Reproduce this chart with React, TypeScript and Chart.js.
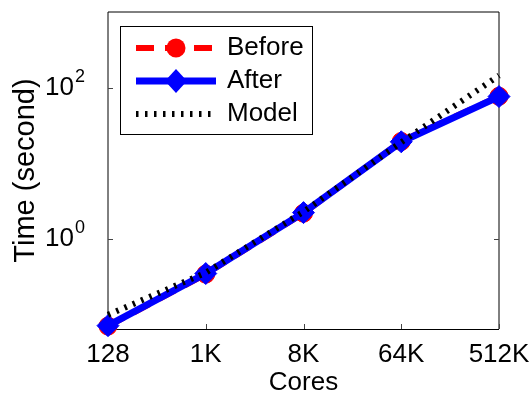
import React, { useEffect, useRef } from 'react';
import { Chart, registerables } from 'chart.js';

Chart.register(...registerables);

const categories = ['128', '1K', '8K', '64K', '512K'];
const beforeValues = [0.071, 0.345, 2.2, 19.5, 77];
const afterValues = [0.072, 0.351, 2.24, 19.3, 76.4];
const modelValues = [0.1, 0.36, 2.3, 19, 145];
const seriesNames = ['Before', 'After', 'Model'];
const yTickValues = [1, 100];
const yTickBases = ['10', '10'];
const yTickExponents = ['0', '2'];
const xTitle = 'Cores';
const yTitle = 'Time (second)';

const FONT = "'Liberation Sans', Arial, sans-serif";

const framePlugin = {
  id: 'matlabFrame',
  beforeDatasetsDraw(chart: any) {
    const { ctx, chartArea: a, scales } = chart;
    ctx.save();
    ctx.strokeStyle = '#000';
    ctx.lineWidth = 1;
    ctx.setLineDash([]);
    ctx.beginPath();
    ctx.moveTo(a.left, a.bottom);
    ctx.lineTo(a.left, a.top);
    ctx.lineTo(a.right, a.top);
    ctx.lineTo(a.right, a.bottom);
    ctx.stroke();
    ctx.beginPath();
    ctx.moveTo(a.left, a.bottom + 0.5);
    ctx.lineTo(a.right, a.bottom + 0.5);
    ctx.stroke();
    // ticks
    ctx.strokeStyle = '#444';
    const ys = scales.y;
    yTickValues.forEach((v) => {
      const py = Math.round(ys.getPixelForValue(v)) + 0.5;
      ctx.beginPath();
      ctx.moveTo(a.left, py);
      ctx.lineTo(a.left + 5, py);
      ctx.moveTo(a.right, py);
      ctx.lineTo(a.right - 5, py);
      ctx.stroke();
    });
    const xs = scales.x;
    categories.forEach((_, i) => {
      const px = Math.round(xs.getPixelForValue(i)) + 0.5;
      ctx.beginPath();
      ctx.moveTo(px, a.bottom);
      ctx.lineTo(px, a.bottom - 5);
      ctx.stroke();
    });
    // y tick labels with superscript exponents
    ctx.fillStyle = '#000';
    ctx.textBaseline = 'middle';
    yTickValues.forEach((v, i) => {
      const py = ys.getPixelForValue(v);
      ctx.font = `26px ${FONT}`;
      ctx.textAlign = 'right';
      const baseRight = a.left - 34;
      ctx.fillText(yTickBases[i], baseRight, py);
      ctx.font = `18px ${FONT}`;
      ctx.textAlign = 'left';
      ctx.fillText(yTickExponents[i], baseRight + 1, py - 11);
    });
    ctx.restore();
  },
};

const legendPlugin = {
  id: 'boxLegend',
  afterDatasetsDraw(chart: any) {
    const { ctx, chartArea: a } = chart;
    const bx = a.left + 12;
    const by = a.top + 14;
    const bw = 192;
    const bh = 108;
    ctx.save();
    ctx.fillStyle = '#fff';
    ctx.fillRect(bx, by, bw, bh);
    ctx.strokeStyle = '#000';
    ctx.lineWidth = 1;
    ctx.setLineDash([]);
    ctx.strokeRect(bx + 0.5, by + 0.5, bw, bh);
    chart.data.datasets.forEach((ds: any, i: number) => {
      const cy = by + 22 + i * 33;
      const x0 = bx + 16;
      const x1 = bx + 96;
      const cx = (x0 + x1) / 2;
      ctx.save();
      ctx.strokeStyle = ds.borderColor;
      ctx.lineWidth = ds.borderWidth;
      ctx.lineCap = 'butt';
      ctx.setLineDash(ds.borderDash || []);
      ctx.beginPath();
      ctx.moveTo(x0, cy);
      ctx.lineTo(x1, cy);
      ctx.stroke();
      ctx.setLineDash([]);
      const r = ds.pointRadius;
      if (r > 0) {
        ctx.fillStyle = ds.pointBackgroundColor;
        ctx.beginPath();
        if (ds.pointStyle === 'circle') {
          ctx.arc(cx, cy, r + 0.5, 0, Math.PI * 2);
        } else {
          ctx.moveTo(cx - r, cy);
          ctx.lineTo(cx, cy - r - 1);
          ctx.lineTo(cx + r, cy);
          ctx.lineTo(cx, cy + r + 1);
          ctx.closePath();
        }
        ctx.fill();
      }
      ctx.restore();
      ctx.fillStyle = '#000';
      ctx.font = `26px ${FONT}`;
      ctx.textAlign = 'left';
      ctx.textBaseline = 'middle';
      ctx.fillText(ds.label, bx + 107, cy);
    });
    ctx.restore();
  },
};

export default function App() {
  const ref = useRef<HTMLCanvasElement>(null);
  useEffect(() => {
    const canvas = ref.current!;
    const chart = new Chart(canvas, {
      type: 'line',
      data: {
        labels: categories,
        datasets: [
          {
            label: seriesNames[0],
            data: beforeValues,
            borderColor: '#ff0000',
            backgroundColor: '#ff0000',
            borderWidth: 6,
            borderDash: [18, 11],
            pointStyle: 'circle',
            pointRadius: 9,
            pointBorderWidth: 1,
            pointBackgroundColor: '#ff0000',
            pointBorderColor: '#ff0000',
            clip: false,
            order: 3,
            tension: 0,
          } as any,
          {
            label: seriesNames[1],
            data: afterValues,
            borderColor: '#0000ff',
            backgroundColor: '#0000ff',
            borderWidth: 7,
            pointStyle: 'rectRot',
            pointRadius: 11,
            pointBorderWidth: 1,
            pointBackgroundColor: '#0000ff',
            pointBorderColor: '#0000ff',
            clip: false,
            order: 2,
            tension: 0,
          } as any,
          {
            label: seriesNames[2],
            data: modelValues,
            borderColor: '#000000',
            backgroundColor: '#000000',
            borderWidth: 6,
            borderDash: [2.5, 6.5],
            borderCapStyle: 'butt',
            pointRadius: 0,
            clip: false,
            order: 1,
            tension: 0,
          } as any,
        ],
      },
      options: {
        responsive: false,
        animation: false,
        events: [],
        layout: { padding: { top: 5, right: 33, left: 0, bottom: 0 } },
        plugins: {
          legend: { display: false },
          tooltip: { enabled: false },
        },
        scales: {
          x: {
            type: 'category',
            offset: false,
            grid: { display: false },
            border: { display: false },
            ticks: {
              color: '#000',
              font: { family: FONT, size: 26 },
              padding: 2,
              maxRotation: 0,
              autoSkip: false,
            },
            title: {
              display: true,
              text: xTitle,
              color: '#000',
              font: { family: FONT, size: 26, lineHeight: 1 },
              padding: { top: 0, bottom: 0 },
            },
            afterFit: (s: any) => {
              s.height = 67;
            },
          },
          y: {
            type: 'logarithmic',
            min: 0.065,
            max: 1000,
            grid: { display: false },
            border: { display: false },
            ticks: { display: false },
            afterBuildTicks: (s: any) => {
              s.ticks = yTickValues.map((v) => ({ value: v }));
            },
            title: {
              display: true,
              text: yTitle,
              color: '#000',
              font: { family: FONT, size: 29, lineHeight: 1 },
              padding: { top: 11, bottom: 0 },
            },
            afterFit: (s: any) => {
              s.width = 108;
            },
          },
        },
      },
      plugins: [framePlugin, legendPlugin],
    });
    return () => chart.destroy();
  }, []);
  return (
    <div style={{ position: 'absolute', left: 0, top: 0, width: 532, height: 396, background: '#fff' }}>
      <canvas ref={ref} width={532} height={396} style={{ display: 'block', width: 532, height: 396 }} />
    </div>
  );
}
